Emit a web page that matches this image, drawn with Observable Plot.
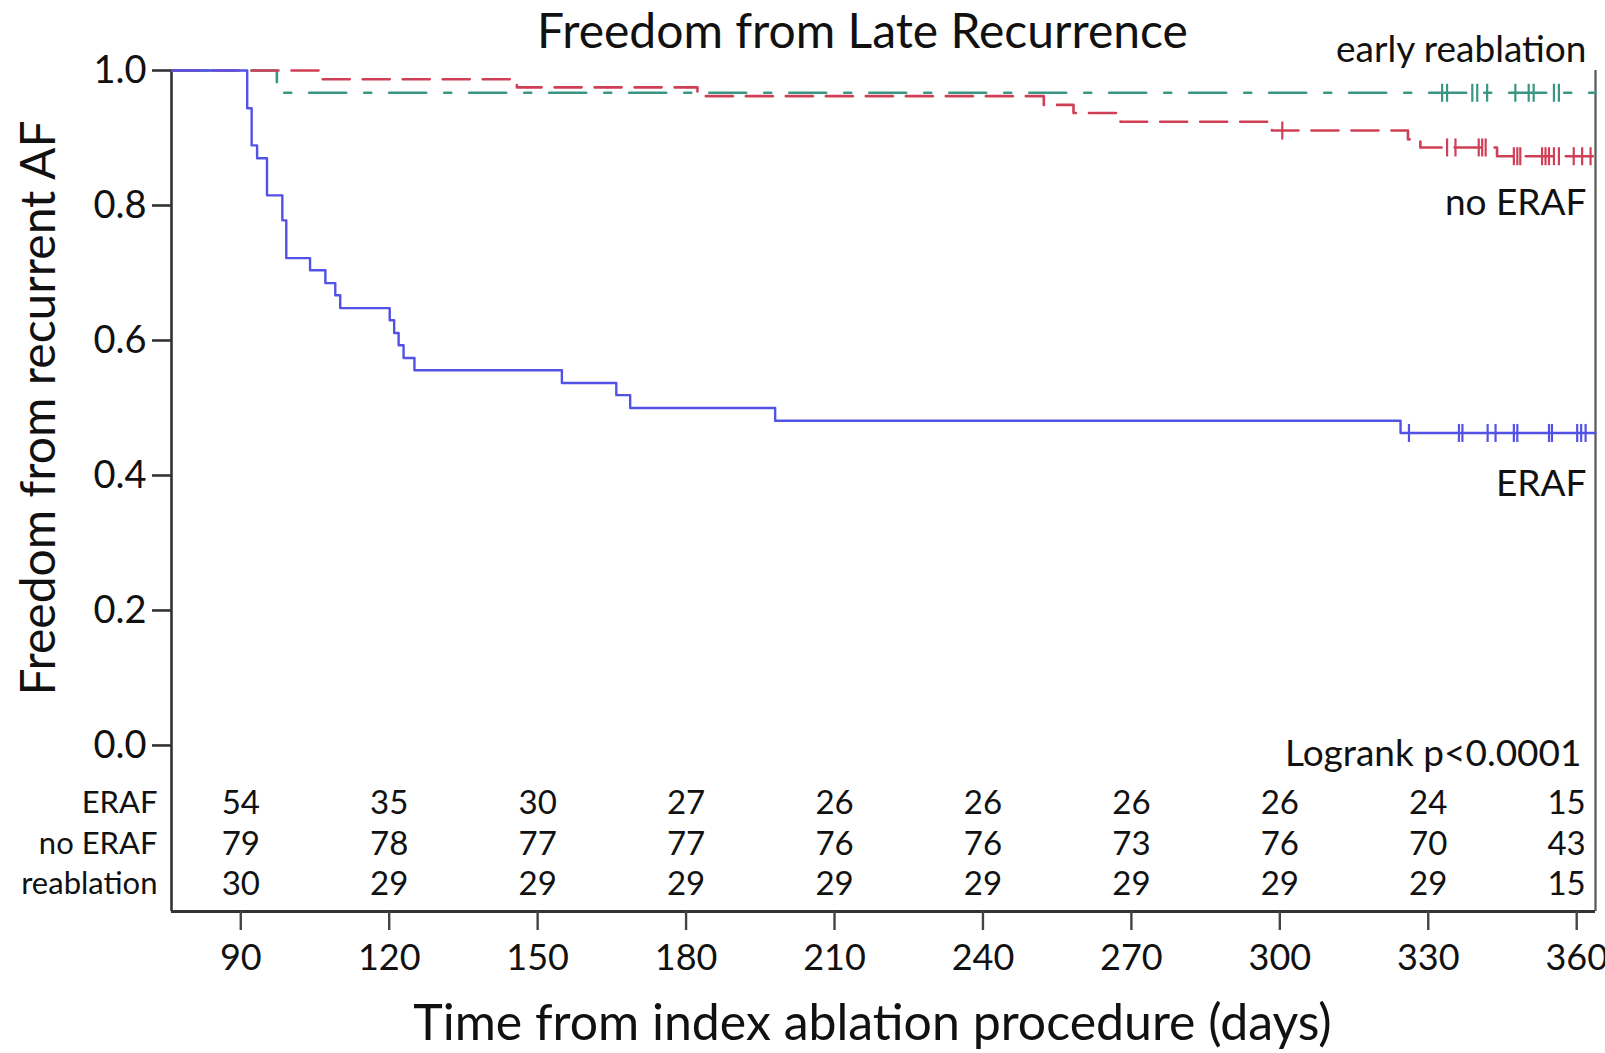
<!DOCTYPE html>
<html>
<head>
<meta charset="utf-8">
<script src="https://cdn.jsdelivr.net/npm/d3@7"></script>
<script src="https://cdn.jsdelivr.net/npm/@observablehq/plot@0.6"></script>
<style>
  html, body { margin: 0; padding: 0; background: #fff; }
  #chart { width: 1605px; height: 1053px; }
</style>
</head>
<body>
<div id="chart"></div>
<script>
// ---------- data ----------
const titleText = "Freedom from Late Recurrence";
const xLabel = "Time from index ablation procedure (days)";
const yLabel = "Freedom from recurrent AF";
const logrankText = "Logrank p<0.0001";

const xTicks = [90, 120, 150, 180, 210, 240, 270, 300, 330, 360];
const yTicks = [0, 0.2, 0.4, 0.6, 0.8, 1.0];

// ERAF (Kaplan–Meier steps: day of change, survival after)
const erafDays = [76, 91.3, 92.2, 93.3, 95.3, 98.4, 99.2, 104.0, 107.1, 109.1, 110.1, 120.1, 121.0, 121.9, 122.9, 125.1, 154.9, 165.9, 168.7, 198.0, 324.4, 363.8];
const erafSurv = [1, 0.944, 0.889, 0.870, 0.815, 0.778, 0.722, 0.704, 0.685, 0.667, 0.648, 0.630, 0.611, 0.593, 0.574, 0.556, 0.537, 0.519, 0.500, 0.481, 0.463, 0.463];
const erafCensor = [326.1, 336.2, 336.9, 342.0, 343.6, 347.3, 348.0, 354.4, 355.0, 360.1, 360.9, 361.8];

// no ERAF
const noDays = [76, 106.4, 145.8, 182.3, 252.3, 258.3, 267.8, 298.4, 325.9, 328.4, 343.9, 363.8];
const noSurv = [1, 0.987, 0.975, 0.962, 0.949, 0.937, 0.924, 0.911, 0.898, 0.886, 0.873, 0.873];
const noCensor = [300.5, 333.8, 335.5, 340.2, 340.9, 341.6, 347.3, 348.0, 348.6, 353.0, 353.7, 354.4, 355.4, 356.4, 359.4, 361.1, 362.8];

// early reablation
const reDays = [76, 97.3, 363.8];
const reSurv = [1, 0.967, 0.967];
const reCensor = [332.8, 333.8, 338.9, 339.9, 341.9, 347.6, 350.3, 351.3, 355.4, 356.4];

// numbers at risk
const riskLabels = ["ERAF", "no ERAF", "reablation"];
const riskEraf = [54, 35, 30, 27, 26, 26, 26, 26, 24, 15];
const riskNo = [79, 78, 77, 77, 76, 76, 73, 76, 70, 43];
const riskRe = [30, 29, 29, 29, 29, 29, 29, 29, 29, 15];

// ---------- build ----------
const xDomain = [76, 363.8];
const yDomain = [-0.246, 1];

const stepAt = (days, surv, t) => {
  let v = surv[0];
  for (let i = 0; i < days.length; i++) if (days[i] <= t) v = surv[i];
  return v;
};

const series = [
  {key: "early reablation", days: reDays, surv: reSurv, censor: reCensor, color: "#3a9682", dash: "37,18,7,18", width: 2.6},
  {key: "no ERAF", days: noDays, surv: noSurv, censor: noCensor, color: "#cf3f55", dash: "27,13", width: 2.6},
  {key: "ERAF", days: erafDays, surv: erafSurv, censor: erafCensor, color: "#5252e6", dash: null, width: 2.4}
];

const tickSymbol = {
  draw(context) { context.moveTo(0, -9); context.lineTo(0, 9); }
};

const marks = [];

// frame: left, right, bottom
marks.push(Plot.ruleX([xDomain[0]], {y1: yDomain[0], y2: yDomain[1], stroke: "#333", strokeWidth: 2.6}));
marks.push(Plot.ruleX([xDomain[1]], {y1: yDomain[0], y2: yDomain[1], stroke: "#555", strokeWidth: 2.2}));
marks.push(Plot.ruleY([yDomain[0]], {stroke: "#333", strokeWidth: 3}));

for (const s of series) {
  const rows = s.days.map((d, i) => ({day: d, surv: s.surv[i]}));
  const opts = {x: "day", y: "surv", curve: "step-after", stroke: s.color, strokeWidth: s.width};
  if (s.dash) opts.strokeDasharray = s.dash;
  marks.push(Plot.line(rows, opts));
  const cRows = s.censor.map(d => ({day: d, surv: stepAt(s.days, s.surv, d)}));
  marks.push(Plot.dot(cRows, {x: "day", y: "surv", symbol: tickSymbol, stroke: s.color, strokeWidth: 2.2, fill: "none", r: 9}));
}

// axes
marks.push(Plot.axisY({ticks: yTicks, tickFormat: d3.format(".1f"), tickSize: 19, tickPadding: 6, fontSize: 38, label: null, strokeWidth: 2.6, stroke: "#333"}));
marks.push(Plot.axisX({ticks: xTicks, tickFormat: d => String(d), tickSize: 19, tickPadding: 14, fontSize: 36, label: null, strokeWidth: 2.4, stroke: "#444"}));

// titles
marks.push(Plot.text([titleText], {text: d => d, frameAnchor: "top", dx: -21, dy: -38, fontSize: 48, lineAnchor: "middle", fill: "#111"}));
marks.push(Plot.text([xLabel], {text: d => d, frameAnchor: "bottom", dx: -11, dy: 112, fontSize: 50, lineAnchor: "middle", fill: "#111"}));
marks.push(Plot.text([0.5], {y: d => d, text: () => yLabel, frameAnchor: "left", textAnchor: "middle", dx: -132, rotate: -90, fontSize: 48, lineAnchor: "middle", fill: "#111"}));

// curve labels
const lastOf = s => s.surv[s.surv.length - 1];
const labelDy = {"early reablation": -43, "no ERAF": 47, "ERAF": 51};
for (const s of series) {
  marks.push(Plot.text([s.key], {
    x: () => xDomain[1], y: () => lastOf(s), text: d => d,
    textAnchor: "end", dx: -9, dy: labelDy[s.key], fontSize: 37, fill: "#111"
  }));
}

// logrank
marks.push(Plot.text([logrankText], {x: () => xDomain[1], y: () => 0, text: d => d, textAnchor: "end", dx: -14, dy: 9, fontSize: 37, fill: "#111"}));

// risk table
const riskSets = [riskEraf, riskNo, riskRe];
const rowDy = [58, 99, 139];
riskSets.forEach((vals, r) => {
  const rows = xTicks.map((t, i) => ({t, n: vals[i]}));
  marks.push(Plot.text(rows.filter(d => d.t !== 360), {x: "t", y: () => 0, text: d => String(d.n), dy: rowDy[r], fontSize: 33, fill: "#111"}));
  marks.push(Plot.text(rows.filter(d => d.t === 360), {x: "t", y: () => 0, text: d => String(d.n), dy: rowDy[r], dx: 9, textAnchor: "end", fontSize: 33, fill: "#111"}));
  marks.push(Plot.text([riskLabels[r]], {y: () => 0, frameAnchor: "left", text: d => d, dy: rowDy[r], dx: -14, textAnchor: "end", fontSize: 31, fill: "#111"}));
});

const chart = Plot.plot({
  width: 1605,
  height: 1053,
  marginLeft: 171,
  marginRight: 10,
  marginTop: 70,
  marginBottom: 142,
  x: {domain: xDomain},
  y: {domain: yDomain},
  style: {fontFamily: "Lato, 'Noto Sans', sans-serif", color: "#111", background: "#fff", overflow: "visible"},
  marks
});
document.getElementById("chart").appendChild(chart);
</script>
</body>
</html>
